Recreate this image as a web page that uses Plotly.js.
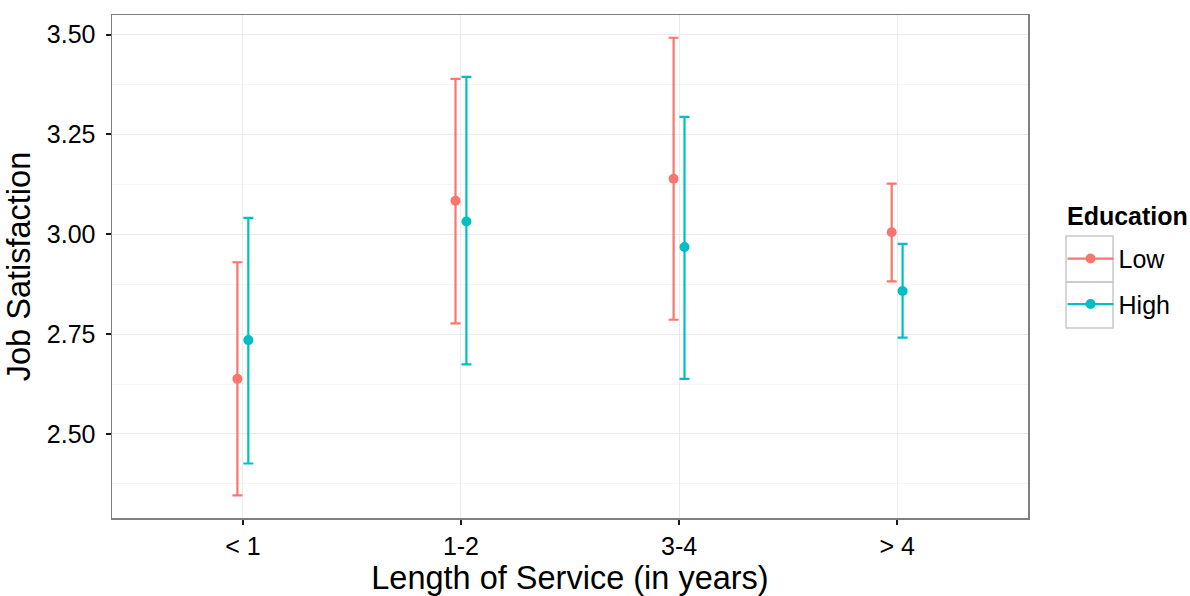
<!DOCTYPE html>
<html>
<head>
<meta charset="utf-8">
<script src="https://cdn.plot.ly/plotly-3.0.1.min.js"></script>
<style>
  html, body { margin: 0; padding: 0; background: #fff; }
  #chart { width: 1190px; height: 596px; }
</style>
</head>
<body>
<div id="chart"></div>
<script>
// ---- data ----
const categories = ["< 1", "1-2", "3-4", "> 4"];
const groups = ["Low", "High"];
const lowMean  = [2.638, 3.084, 3.139, 3.005];
const lowUpper = [2.930, 3.389, 3.492, 3.127];
const lowLower = [2.346, 2.777, 2.786, 2.882];
const highMean  = [2.735, 3.032, 2.968, 2.858];
const highUpper = [3.041, 3.394, 3.294, 2.976];
const highLower = [2.426, 2.674, 2.638, 2.741];
const yTicks = [2.50, 2.75, 3.00, 3.25, 3.50];
const yMinorTicks = [2.375, 2.625, 2.875, 3.125, 3.375];
const legendTitle = "Education";

// ---- styling ----
const colors = {Low: "#F8766D", High: "#00BFC4"};
const dodge = {Low: -0.025, High: 0.025};
const font = "Liberation Sans, Arial, Helvetica, sans-serif";

function makeTrace(name, mean, upper, lower) {
  return {
    type: "scatter",
    mode: "markers",
    name: name,
    showlegend: false,
    x: categories.map((c, i) => i + 1 + dodge[name]),
    y: mean,
    marker: {size: 10, color: colors[name]},
    error_y: {
      type: "data",
      symmetric: false,
      array: upper.map((u, i) => u - mean[i]),
      arrayminus: lower.map((l, i) => mean[i] - l),
      color: colors[name],
      thickness: 2.2,
      width: 5
    },
    hoverinfo: "skip",
    cliponaxis: false
  };
}

function legendTrace(name) {
  return {
    type: "scatter",
    mode: "lines+markers",
    name: name,
    legendgroup: name,
    x: [null], y: [null],
    line: {width: 2.2, color: colors[name]},
    marker: {size: 10, color: colors[name]},
    hoverinfo: "skip"
  };
}

const traces = [
  makeTrace("Low", lowMean, lowUpper, lowLower),
  makeTrace("High", highMean, highUpper, highLower),
  legendTrace("Low"),
  legendTrace("High")
];

// legend key boxes (paper coordinates, outside the panel)
const keyBoxes = groups.map((g, i) => ({
  type: "rect", xref: "paper", yref: "paper",
  x0: 1.0415, x1: 1.0928,
  y0: 0.5606 - 0.0914 * (i + 1), y1: 0.5606 - 0.0914 * i,
  line: {color: "#c8c8c8", width: 1.5},
  fillcolor: "rgba(0,0,0,0)",
  layer: "below"
}));

const layout = {
  width: 1190,
  height: 596,
  margin: {l: 112, r: 162, t: 15, b: 78},
  paper_bgcolor: "#ffffff",
  plot_bgcolor: "#ffffff",
  font: {family: font, color: "#000000", size: 25},
  showlegend: true,
  legend: {
    x: 1.0377, xanchor: "left",
    y: 0.561, yanchor: "top",
    font: {size: 25, family: font, color: "#000"},
    itemwidth: 46,
    tracegroupgap: 10,
    bgcolor: "rgba(0,0,0,0)"
  },
  shapes: keyBoxes,
  annotations: [{
    text: "<b>" + legendTitle + "</b>",
    xref: "paper", yref: "paper",
    x: 1.0405, y: 0.6004,
    xanchor: "left", yanchor: "middle",
    showarrow: false,
    font: {size: 25, family: font, color: "#000"}
  }],
  xaxis: {
    range: [0.4, 4.6],
    tickmode: "array",
    tickvals: categories.map((c, i) => i + 1),
    ticktext: categories,
    showgrid: true,
    gridcolor: "#ebebeb",
    gridwidth: 1,
    zeroline: false,
    showline: true,
    mirror: true,
    linecolor: "#7f7f7f",
    linewidth: 1.5,
    ticks: "outside",
    ticklen: 5,
    tickwidth: 2,
    tickcolor: "#1a1a1a",
    tickfont: {size: 25, family: font, color: "#000"},
    title: {text: "Length of Service (in years)", font: {size: 32.5, family: font, color: "#000"}, standoff: 3}
  },
  yaxis: {
    range: [2.2896, 3.549],
    tickmode: "array",
    tickvals: yTicks,
    ticktext: yTicks.map(v => v.toFixed(2)),
    showgrid: true,
    gridcolor: "#ebebeb",
    gridwidth: 1,
    minor: {tickmode: "array", tickvals: yMinorTicks, showgrid: true, gridcolor: "#f5f5f5", gridwidth: 1, ticks: ""},
    zeroline: false,
    showline: true,
    mirror: true,
    linecolor: "#7f7f7f",
    linewidth: 1.5,
    ticks: "outside",
    ticklen: 5,
    tickwidth: 2,
    tickcolor: "#1a1a1a",
    ticklabelstandoff: 5,
    tickfont: {size: 25, family: font, color: "#000"},
    title: {text: "Job Satisfaction", font: {size: 32.5, family: font, color: "#000"}, standoff: 6}
  }
};

Plotly.newPlot("chart", traces, layout, {displayModeBar: false, staticPlot: true});
</script>
</body>
</html>
